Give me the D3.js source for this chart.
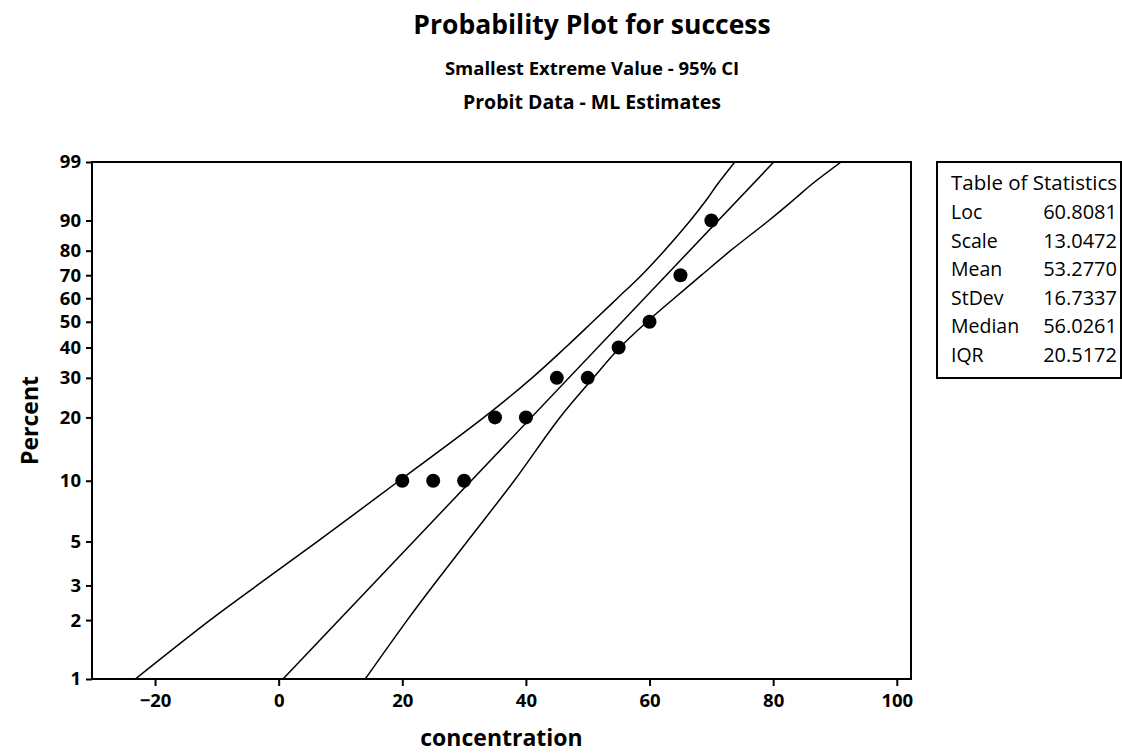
<!DOCTYPE html>
<html>
<head>
<meta charset="utf-8">
<script src="https://cdn.jsdelivr.net/npm/d3@7"></script>
<style>
    body { margin: 0; background: #fff; }
    svg text { font-family: "Open Sans", "Noto Sans", sans-serif; fill: #000; }
</style>
</head>
<body>
<div id="chart"></div>
<script>
// probit data: concentration vs percent success
const concentration = [20, 25, 30, 35, 40, 45, 50, 55, 60, 65, 70];
const percentSuccess = [10, 10, 10, 20, 20, 30, 30, 40, 50, 70, 90];

// fitted line and 95% CI bands at these percents
const fitPercent = [1, 99];
const fitX = [0.7, 80.1];
const bandPercent = [1, 2, 3, 5, 10, 20, 30, 40, 50, 60, 70, 80, 90, 95, 97, 99];
const leftBand = [-23.2, -11.1, -3.5, 6.3, 19.5, 33.2, 41.0, 46.4, 50.8, 54.8, 58.7, 62.4, 66.6, 69.4, 70.9, 73.8];
const rightBand = [14.0, 20.8, 25.0, 30.5, 38.1, 45.5, 50.9, 55.2, 59.6, 64.0, 68.4, 73.1, 79.3, 83.6, 86.1, 91.0];

const percentTicks = [1, 2, 3, 5, 10, 20, 30, 40, 50, 60, 70, 80, 90, 99];
const xTicks = [-20, 0, 20, 40, 60, 80, 100];

const statLabels = ["Loc", "Scale", "Mean", "StDev", "Median", "IQR"];
const statValues = ["60.8081", "13.0472", "53.2770", "16.7337", "56.0261", "20.5172"];

document.addEventListener("DOMContentLoaded", function() {
    const width = 1122, height = 755;
    const plot = { left: 92, right: 911, top: 162, bottom: 679 };

    const svg = d3.select("#chart").append("svg")
        .attr("width", width)
        .attr("height", height);

    // smallest extreme value probability scale
    const sev = p => Math.log(-Math.log(1 - p / 100));

    const x = d3.scaleLinear().domain([-30.2, 102.3]).range([plot.left, plot.right]);
    const y = d3.scaleLinear().domain([sev(1), sev(99)]).range([plot.bottom, plot.top]);

    // titles
    svg.append("text")
        .attr("x", 592).attr("y", 34)
        .attr("text-anchor", "middle")
        .style("font-size", "26.5px").style("font-weight", "bold")
        .text("Probability Plot for success");
    svg.append("text")
        .attr("x", 592).attr("y", 75)
        .attr("text-anchor", "middle")
        .style("font-size", "18.5px").style("font-weight", "bold")
        .text("Smallest Extreme Value - 95% CI");
    svg.append("text")
        .attr("x", 592).attr("y", 109)
        .attr("text-anchor", "middle")
        .style("font-size", "19.5px").style("font-weight", "bold")
        .text("Probit Data - ML Estimates");

    // axes
    const xAxis = svg.append("g")
        .attr("transform", `translate(0,${plot.bottom})`)
        .call(d3.axisBottom(x).tickValues(xTicks).tickSize(7).tickPadding(8).tickSizeOuter(0));
    const yAxis = svg.append("g")
        .attr("transform", `translate(${plot.left},0)`)
        .call(d3.axisLeft(y).tickValues(percentTicks.map(sev))
            .tickFormat((d, i) => percentTicks[i]).tickSize(6).tickPadding(5).tickSizeOuter(0));

    [xAxis, yAxis].forEach(function(g) {
        g.select(".domain").remove();
        g.selectAll("line").attr("stroke", "#000").attr("stroke-width", 2);
        g.selectAll("text")
            .style("font-size", "18.5px").style("font-weight", "bold")
            .style("font-family", "'Open Sans', sans-serif");
    });

    svg.append("defs").append("clipPath").attr("id", "clip")
        .append("rect")
        .attr("x", plot.left).attr("y", plot.top)
        .attr("width", plot.right - plot.left).attr("height", plot.bottom - plot.top);

    const curve = d3.line()
        .x(d => x(d[1]))
        .y(d => y(sev(d[0])))
        .curve(d3.curveCatmullRom);

    const lines = svg.append("g").attr("clip-path", "url(#clip)");
    [
        bandPercent.map((p, i) => [p, leftBand[i]]),
        fitPercent.map((p, i) => [p, fitX[i]]),
        bandPercent.map((p, i) => [p, rightBand[i]])
    ].forEach(function(pts) {
        lines.append("path")
            .datum(pts)
            .attr("d", curve)
            .attr("fill", "none")
            .attr("stroke", "#000")
            .attr("stroke-width", 1.5);
    });

    // data points
    svg.append("g").selectAll("circle")
        .data(concentration)
        .join("circle")
        .attr("cx", d => x(d))
        .attr("cy", (d, i) => y(sev(percentSuccess[i])))
        .attr("r", 7)
        .attr("fill", "#000");

    // frame
    svg.append("rect")
        .attr("x", plot.left).attr("y", plot.top)
        .attr("width", plot.right - plot.left).attr("height", plot.bottom - plot.top)
        .attr("fill", "none").attr("stroke", "#000").attr("stroke-width", 2);

    // axis labels
    svg.append("text")
        .attr("x", (plot.left + plot.right) / 2).attr("y", 746)
        .attr("text-anchor", "middle")
        .style("font-size", "23px").style("font-weight", "bold")
        .text("concentration");
    svg.append("text")
        .attr("transform", `translate(38,${(plot.top + plot.bottom) / 2}) rotate(-90)`)
        .attr("text-anchor", "middle")
        .style("font-size", "23px").style("font-weight", "bold")
        .text("Percent");

    // table of statistics
    const box = svg.append("g");
    box.append("rect")
        .attr("x", 937).attr("y", 162)
        .attr("width", 184).attr("height", 216)
        .attr("fill", "#fff").attr("stroke", "#000").attr("stroke-width", 2);
    box.append("text")
        .attr("x", 951).attr("y", 190)
        .style("font-size", "20.5px")
        .text("Table of Statistics");
    statLabels.forEach(function(label, i) {
        const rowY = 219 + i * 28.6;
        box.append("text")
            .attr("x", 951).attr("y", rowY)
            .style("font-size", "19.5px")
            .text(label);
        box.append("text")
            .attr("x", 1117).attr("y", rowY)
            .attr("text-anchor", "end")
            .style("font-size", "20px")
            .text(statValues[i]);
    });
});
</script>
</body>
</html>
